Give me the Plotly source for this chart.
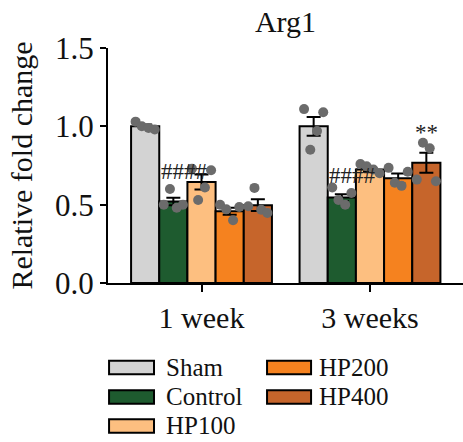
import plotly.graph_objects as go
import numpy as np

# ---- data ----
groups = ["1 week", "3 weeks"]
series = ["Sham", "Control", "HP100", "HP200", "HP400"]
colors = ["#D3D3D3", "#1E5B2F", "#FDBF80", "#F5821F", "#C6652B"]

means = {
    "Sham":    [1.00, 1.00],
    "Control": [0.52, 0.545],
    "HP100":   [0.645, 0.724],
    "HP200":   [0.458, 0.669],
    "HP400":   [0.497, 0.767],
}
sems = {
    "Sham":    [0.012, 0.06],
    "Control": [0.024, 0.022],
    "HP100":   [0.048, 0.014],
    "HP200":   [0.023, 0.030],
    "HP400":   [0.037, 0.064],
}
points = {
    "Sham":    [[1.03, 1.00, 0.99, 0.98], [1.11, 0.85, 0.97, 1.09]],
    "Control": [[0.50, 0.60, 0.48, 0.50], [0.61, 0.53, 0.50, 0.575]],
    "HP100":   [[0.73, 0.53, 0.61, 0.72], [0.76, 0.745, 0.724, 0.70]],
    "HP200":   [[0.50, 0.47, 0.40, 0.485], [0.735, 0.64, 0.62, 0.71]],
    "HP400":   [[0.49, 0.607, 0.468, 0.447], [0.66, 0.895, 0.86, 0.65]],
}
jitter = [-0.34, -0.12, 0.12, 0.34]

sig_labels = [("####", "Control", 0, 0.5), ("####", "Control", 1, 0.5), ("**", "HP400", 1, 0.0)]

# ---- layout geometry ----
group_width = 0.836
w = group_width / len(series)
FONT = "Liberation Serif, serif"

fig = go.Figure()
gx = np.arange(len(groups))

for i, s in enumerate(series):
    xs = gx + (i - 2) * w
    fig.add_trace(go.Bar(
        x=xs, y=means[s], width=w, name=s,
        marker=dict(color=colors[i], line=dict(color="black", width=2)),
        error_y=dict(type="data", array=sems[s], color="black", thickness=2, width=7),
        showlegend=False,
    ))

for i, s in enumerate(series):
    px, py = [], []
    for g in range(len(groups)):
        for k, v in enumerate(points[s][g]):
            px.append(g + (i - 2) * w + jitter[k] * w)
            py.append(v)
    fig.add_trace(go.Scatter(
        x=px, y=py, mode="markers",
        marker=dict(color="#6B6B6B", size=10),
        showlegend=False, hoverinfo="skip",
    ))

# significance labels
for txt, s, g, shift in sig_labels:
    i = series.index(s)
    xpos = g + (i - 2) * w + shift * w - (0.12 * w if txt == "####" else 0)
    if txt == "####":
        ypos = means[s][g] + sems[s][g] + (0.165 if g == 0 else 0.12)
    else:
        ypos = means[s][g] + sems[s][g] + 0.13
    fig.add_annotation(x=xpos, y=ypos, text=txt, showarrow=False,
                       font=dict(family=FONT, size=23, color="#222"),
                       xanchor="center", yanchor="middle")

# custom legend
leg_cols = [(0.003, 0.1296, 0.158), (0.448, 0.572, 0.589)]
leg_rows = [-0.3596, -0.485, -0.6085]
half_h = 0.029
for i, s in enumerate(series):
    col = 0 if i < 3 else 1
    row = i if i < 3 else i - 3
    x0, x1, xt = leg_cols[col]
    yc = leg_rows[row]
    fig.add_shape(type="rect", xref="paper", yref="paper",
                  x0=x0, x1=x1, y0=yc - half_h, y1=yc + half_h,
                  fillcolor=colors[i], line=dict(color="black", width=2))
    fig.add_annotation(xref="paper", yref="paper", x=xt, y=yc, text=s,
                       showarrow=False, xanchor="left", yanchor="middle",
                       font=dict(family=FONT, size=25, color="#111"))

fig.update_layout(
    width=463, height=442,
    margin=dict(l=108, r=0, t=48, b=159),
    plot_bgcolor="white", paper_bgcolor="white",
    barmode="overlay",
    font=dict(family=FONT, color="#111"),
    title=dict(text="Arg1", x=0.5, xref="paper", xanchor="center",
               y=1 - 21 / 442, yanchor="middle",
               font=dict(family=FONT, size=30, color="#111")),
    showlegend=False,
)
fig.update_xaxes(
    range=[-0.555, 1.552], tickvals=list(gx), ticktext=groups,
    showline=True, linecolor="black", linewidth=2,
    ticks="outside", ticklen=7, tickwidth=2, tickcolor="black",
    tickfont=dict(family=FONT, size=30, color="#111"),
    ticklabelstandoff=0, showgrid=False, zeroline=False,
)
fig.update_yaxes(
    range=[0, 1.5], tickvals=[0, 0.5, 1.0, 1.5], ticktext=["0.0", "0.5", "1.0", "1.5"],
    showline=True, linecolor="black", linewidth=2,
    ticks="outside", ticklen=6, tickwidth=2, tickcolor="black",
    tickfont=dict(family=FONT, size=31, color="#111"),
    title=dict(text="Relative fold change", font=dict(family=FONT, size=30, color="#111"), standoff=14),
    showgrid=False, zeroline=False,
)

# remove the browser's default 8px body margin so the figure fills the window exactly
fig.write_html("out.html", config={"displayModeBar": False},
               post_script="document.body.style.margin='0px';")
